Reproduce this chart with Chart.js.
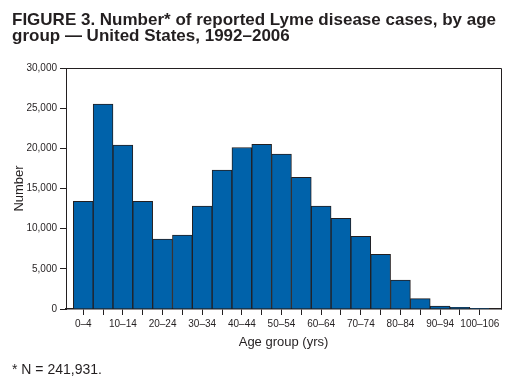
<!DOCTYPE html>
<html>
<head>
<meta charset="utf-8">
<script src="https://cdn.jsdelivr.net/npm/chart.js@4"></script>
<style>
  body { margin: 0; background: #fff; }
  #wrap { position: relative; width: 514px; height: 384px; }
  #title { position: absolute; left: 12px; top: 12px; font: bold 17px "Liberation Sans", Arial, sans-serif; line-height: 16px; color: #231f20; white-space: nowrap; }
  #note { position: absolute; left: 12px; top: 361px; font: 14px "Liberation Sans", Arial, sans-serif; color: #231f20; }
  canvas { position: absolute; left: 0; top: 0; }
</style>
</head>
<body>
<div id="wrap">
  <canvas id="chart" width="514" height="384"></canvas>
  <div id="title">FIGURE 3. Number* of reported Lyme disease cases, by age<br>group — United States, 1992–2006</div>
  <div id="note">* N = 241,931.</div>
</div>
<script>
// age groups along the x axis
const ageGroups = ['0–4','5–9','10–14','15–19','20–24','25–29','30–34','35–39','40–44','45–49',
  '50–54','55–59','60–64','65–69','70–74','75–79','80–84','85–89','90–94','95–99','100–106']
// reported cases per age group
const cases = [13400, 25500, 20400, 13400, 8700, 9200, 12800, 17300, 20100, 20500,
  19300, 16400, 12800, 11300, 9050, 6800, 3600, 1300, 350, 200, 10]
const yMax = 30000
const yStep = 5000

const ink = '#231f20'
const barBlue = '#0062aa'
const fontFam = '"Liberation Sans", Arial, sans-serif'

// top and right edges of the plot box
const frame = {
  id: 'frame',
  afterDraw(chart) {
    const a = chart.chartArea
    const ctx = chart.ctx
    ctx.save()
    ctx.strokeStyle = ink
    ctx.lineWidth = 1
    ctx.beginPath()
    ctx.moveTo(Math.round(a.left) + 0.5, Math.round(a.top) + 0.5)
    ctx.lineTo(Math.round(a.right) + 0.5, Math.round(a.top) + 0.5)
    ctx.lineTo(Math.round(a.right) + 0.5, Math.round(a.bottom) + 0.5)
    ctx.stroke()
    ctx.restore()
  }
}

const chart = new Chart(document.getElementById('chart'), {
  type: 'bar',
  data: {
    datasets: [{
      data: cases.map((v, i) => ({x: i, y: v})),
      backgroundColor: barBlue,
      borderColor: ink,
      borderWidth: 1,
      barPercentage: 1,
      categoryPercentage: 1
    }]
  },
  options: {
    responsive: false,
    animation: false,
    devicePixelRatio: 1,
    layout: { padding: { top: 68, right: 13, left: 0, bottom: 0 } },
    plugins: { legend: { display: false }, tooltip: { enabled: false } },
    scales: {
      x: {
        type: 'linear',
        offset: false,
        min: -0.87,
        max: 21.07,
        afterBuildTicks: s => { s.ticks = ageGroups.map((_, i) => ({value: i})) },
        afterFit: s => { s.height = 75 },
        ticks: {
          autoSkip: false,
          maxRotation: 0,
          padding: 3,
          color: ink,
          font: { family: fontFam, size: 10 },
          callback: v => (v % 2 === 0 ? ageGroups[v] : '')
        },
        grid: { drawOnChartArea: false, offset: false, tickLength: 6, color: ink },
        border: { color: ink, width: 1.5 },
        title: { display: true, text: 'Age group (yrs)', color: ink, font: { family: fontFam, size: 13 }, padding: { bottom: 34 } }
      },
      y: {
        min: 0,
        max: yMax,
        afterFit: s => { s.width = 66 },
        ticks: {
          stepSize: yStep,
          padding: 3,
          color: ink,
          font: { family: fontFam, size: 10 },
          callback: v => v.toLocaleString('en-US')
        },
        grid: { drawOnChartArea: false, tickLength: 6, color: ink },
        border: { color: ink, width: 1 },
        title: { display: true, text: 'Number', color: ink, font: { family: fontFam, size: 13 }, padding: { top: 12 } }
      }
    }
  },
  plugins: [frame]
})
</script>
</body>
</html>
